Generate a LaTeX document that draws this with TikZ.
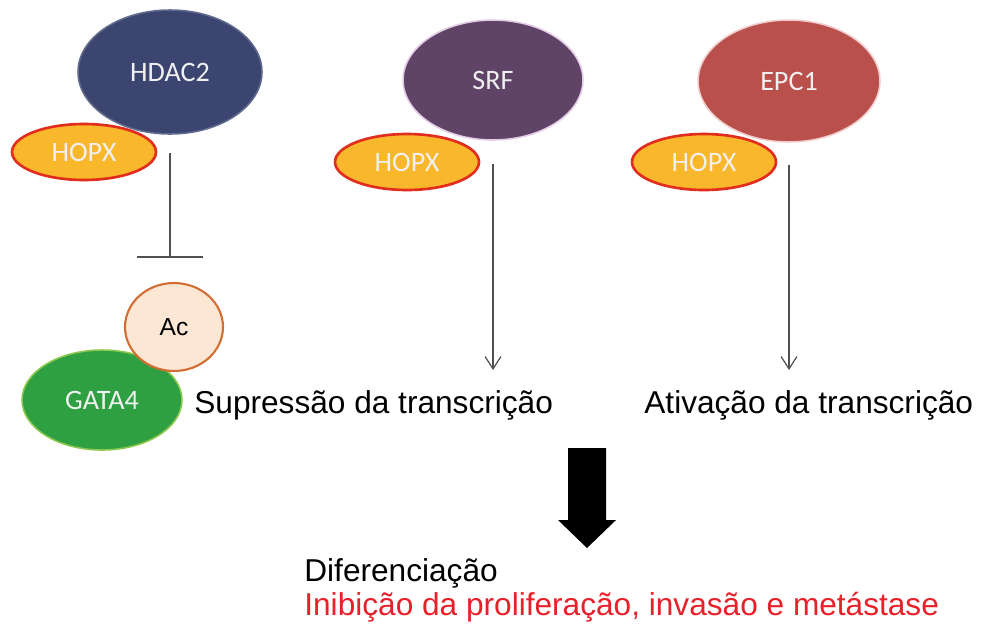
\documentclass[tikz,border=0pt]{standalone}
\usepackage{fontspec}
\setmainfont{Liberation Sans}
\newfontfamily\labelfont{Carlito}
\usepackage{tikz}
\usetikzlibrary{calc,shapes.geometric,arrows.meta}

\definecolor{hdaccol}{RGB}{59,69,112}
\definecolor{srfcol}{RGB}{96,68,104}
\definecolor{srfline}{RGB}{228,205,228}
\definecolor{epccol}{RGB}{185,80,76}
\definecolor{epcline}{RGB}{242,205,205}
\definecolor{hopxcol}{RGB}{249,183,43}
\definecolor{hopxline}{RGB}{225,45,30}
\definecolor{accol}{RGB}{252,230,212}
\definecolor{acline}{RGB}{210,110,50}
\definecolor{gatacol}{RGB}{46,160,66}
\definecolor{gataline}{RGB}{140,200,80}
\definecolor{txtred}{RGB}{232,32,42}
\definecolor{linecol}{RGB}{80,80,80}

\tikzset{
  protein/.style={ellipse, inner sep=0pt, line width=0.9pt, text=white!94!black,
    font=\labelfont\fontsize{16}{19}\selectfont},
  hopx/.style={protein, fill=hopxcol, draw=hopxline, line width=1.5pt,
    minimum width=2.88cm, minimum height=1.12cm},
  caption/.style={anchor=west, inner sep=0pt, font=\fontsize{18}{21}\selectfont},
  conn/.style={draw=linecol, line width=0.7pt},
}

\begin{document}
\begin{tikzpicture}[x=0.02cm,y=-0.02cm]
      \useasboundingbox (0,0) rectangle (982,626);
      % complexes
      \node[protein, fill=hdaccol, draw=hdaccol!80!white, minimum width=3.68cm,
            minimum height=2.48cm] (hdac) at (170,72) {HDAC2};
      \node[hopx] (hopxa) at (84,152) {HOPX};
      \node[protein, fill=srfcol, draw=srfline, minimum width=3.6cm,
            minimum height=2.4cm] (srf) at (493,80) {SRF};
      \node[hopx] (hopxb) at (407,162) {HOPX};
      \node[protein, fill=epccol, draw=epcline, minimum width=3.64cm,
            minimum height=2.44cm] (epc) at (789,81) {EPC1};
      \node[hopx] (hopxc) at (704,162) {HOPX};
      % target
      \node[protein, fill=gatacol, draw=gataline, minimum width=3.2cm,
            minimum height=2.0cm] (gata) at (102,400) {GATA4};
      \node[protein, fill=accol, draw=acline, line width=1.2pt, text=black,
            font=\fontsize{14}{16}\selectfont, minimum width=1.96cm,
            minimum height=1.76cm] (ac) at (174,327) {Ac};
      % texts
      \node[caption] (supr) at (194,405) {Supressão da transcrição};
      \node[caption] (ativ) at (644,405) {Ativação da transcrição};
      \node[caption] (difer) at (304,573) {Diferenciação};
      \node[caption, text=txtred] (inib) at (304,607)
            {Inibição da proliferação, invasão e metástase};
      % connectors
      \coordinate (bar) at (170,257);
      \coordinate (srfend) at (493,370);
      \coordinate (epcend) at (789,370);
      \draw[conn] ($(hdac.south)+(0,18)$) -- (bar);
      \draw[conn] ($(bar)+(-33,0)$) -- ($(bar)+(33,0)$);
      \draw[conn, -{Straight Barb[length=7pt,width=9pt]}] ($(srf.south)+(0,23)$) -- (srfend);
      \draw[conn, -{Straight Barb[length=7pt,width=9pt]}] ($(epc.south)+(0,22)$) -- (epcend);
      % big arrow
      \fill[black] (568,448) -- (606,448) -- (606,520) -- (616,520) -- (587,548)
            -- (558,520) -- (568,520) -- cycle;
\end{tikzpicture}
\end{document}
